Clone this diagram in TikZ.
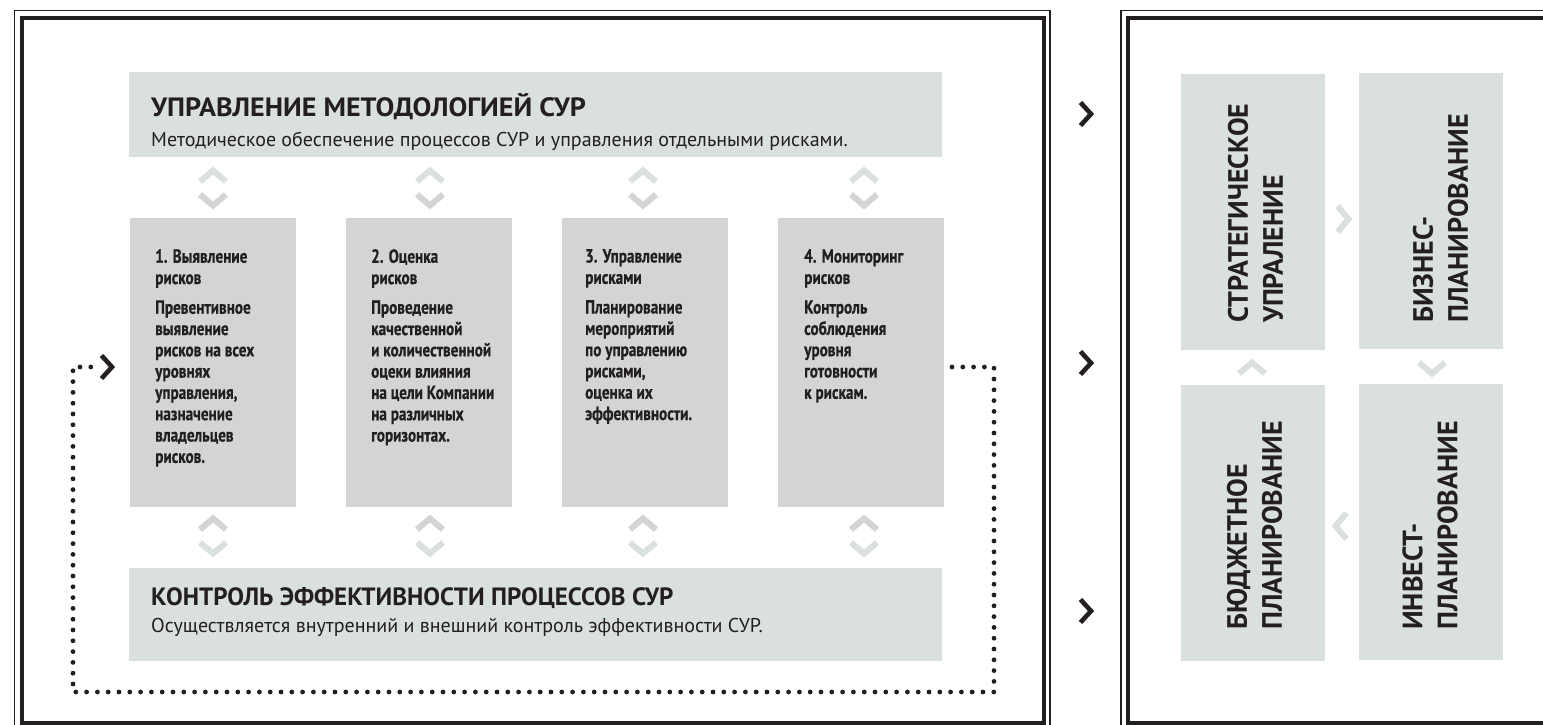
\documentclass[tikz,border=0pt]{standalone}
\usepackage{fontspec}
\setmainfont{PT Sans}
\newfontfamily\condfont[FakeStretch=0.8, FakeBold=0.6, UprightFont={* Bold}]{PT Sans}
\newfontfamily\widefont[FakeStretch=1.06, BoldFont={PT Sans Bold}, BoldFeatures={FakeStretch=1.06}]{PT Sans}
\definecolor{ink}{HTML}{231F20}
\definecolor{sage}{HTML}{DAE1DC}
\definecolor{grayb}{HTML}{D3D4D6}
\tikzset{
  sagebox/.style={fill=sage, draw=none, inner sep=0pt},
  graybox/.style={fill=grayb, draw=none, inner sep=0pt, minimum width=166pt, minimum height=289pt},
  vbox/.style={fill=sage, draw=none, inner sep=0pt, minimum width=144pt, minimum height=276pt},
  titletext/.style={anchor=base west, inner sep=0pt, text=ink, font=\fontsize{25}{28}\selectfont\bfseries},
  subtext/.style={anchor=base west, inner sep=0pt, text=ink, font=\fontsize{20}{24}\selectfont},
  steptext/.style={anchor=north west, inner sep=0pt, align=left, text=ink, font=\condfont\fontsize{19}{21.3}\selectfont},
  vtext/.style={rotate=90, anchor=west, inner sep=0pt, align=left, text=ink, font=\fontsize{28}{35}\selectfont\bfseries},
  dotline/.style={ink, line width=4.8pt, line cap=round, dash pattern=on 0pt off 10.8pt},
  thinframe/.style={ink, line width=1.4pt},
  thickframe/.style={ink, line width=4.2pt},
  bigchev/.pic={\draw[ink, line width=4.6pt, line join=miter] (-5.5,-11.5) -- (5,0) -- (-5.5,11.5);},
  smallchev/.pic={\draw[#1, line width=6pt, line join=miter] (-5.5,-13) -- (5.5,0) -- (-5.5,13);}
}
\begin{document}
\begin{tikzpicture}[x=1pt, y=-1pt]
\useasboundingbox (0,0) rectangle (1543,725);
\clip (0,0) rectangle (1543,725);
\fill[white] (0,0) rectangle (1543,725);

% frames
\draw[thinframe] (14.5,740) -- (14.5,10.5) -- (1050,10.5) -- (1050,740);
\draw[thickframe] (22,723) -- (22,18) -- (1044,18) -- (1044,723) -- cycle;
\draw[thinframe] (1121,740) -- (1121,10.5) -- (1600,10.5);
\draw[thickframe] (1600,723) -- (1128,723) -- (1128,18) -- (1600,18);

% chevrons between panels
\pic at (1086,114) {bigchev};
\pic at (1086,363) {bigchev};
\pic at (1086,611) {bigchev};

% top box
\node[sagebox, minimum width=813pt, minimum height=85pt] (meth) at (535.5,114.5) {};
\node[titletext, font=\widefont\bfseries\fontsize{26.5}{28}\selectfont] (methT) at (151,117) {УПРАВЛЕНИЕ МЕТОДОЛОГИЕЙ СУР};
\node[subtext] (methS) at (151,146) {Методическое обеспечение процессов СУР и управления отдельными рисками.};

% bottom box
\node[sagebox, minimum width=813pt, minimum height=93pt] (ctrl) at (535.5,614.5) {};
\node[titletext] (ctrlT) at (151,605) {КОНТРОЛЬ ЭФФЕКТИВНОСТИ ПРОЦЕССОВ СУР};
\node[subtext] (ctrlS) at (151,632) {Осуществляется внутренний и внешний контроль эффективности СУР.};

% step boxes
\node[graybox] (s1) at (213,362.5) {};
\node[graybox] (s2) at (429,362.5) {};
\node[graybox] (s3) at (645,362.5) {};
\node[graybox] (s4) at (861,362.5) {};

\node[steptext] (s1t) at (155,249) {1. Выявление\\рисков\\[8.4pt]Превентивное\\выявление\\рисков на всех\\уровнях\\управления,\\назначение\\владельцев\\рисков.};
\node[steptext] (s2t) at (371,249) {2. Оценка\\рисков\\[8.4pt]Проведение\\качественной\\и количественной\\оцеки влияния\\на цели Компании\\на различных\\горизонтах.};
\node[steptext] (s3t) at (585,249) {3. Управление\\рисками\\[8.4pt]Планирование\\мероприятий\\по управлению\\рисками,\\оценка их\\эффективности.};
\node[steptext] (s4t) at (804,249) {4. Мониторинг\\рисков\\[8.4pt]Контроль\\соблюдения\\уровня\\готовности\\к рискам.};

% small chevrons (two-way links)
\foreach \cx in {213,430,643,864} {
  \pic[rotate=90] at (\cx,176) {smallchev=sage};
  \pic[rotate=-90] at (\cx,200) {smallchev=grayb};
  \pic[rotate=90] at (\cx,524) {smallchev=grayb};
  \pic[rotate=-90] at (\cx,548) {smallchev=sage};
}

% dotted feedback loop
\coordinate (dStart) at (952,367);
\coordinate (dEnd) at (98,367);
\draw[dotline] (dStart) -- (994,367) -- (994,692) -- (73,692) -- (73,367) -- (dEnd);
\pic at (107,367) {bigchev};

% right panel boxes
\node[vbox] (r1) at (1253,212) {};
\node[vbox] (r2) at (1431,211) {};
\node[vbox] (r3) at (1253,523) {};
\node[vbox] (r4) at (1431,522) {};

\node[vtext] (r1t) at (1255.5,323) {СТРАТЕГИЧЕСКОЕ\\УПРАЛЕНИЕ};
\node[vtext] (r2t) at (1440.5,323) {БИЗНЕС-\\ПЛАНИРОВАНИЕ};
\node[vtext] (r3t) at (1254.5,630) {БЮДЖЕТНОЕ\\ПЛАНИРОВАНИЕ};
\node[vtext] (r4t) at (1430,630) {ИНВЕСТ-\\ПЛАНИРОВАНИЕ};

% right panel chevrons
\pic at (1343,219) {smallchev=sage};
\pic[rotate=-90] at (1432,368) {smallchev=sage};
\pic[rotate=90] at (1252,368) {smallchev=sage};
\pic[rotate=180] at (1341,526) {smallchev=sage};
\end{tikzpicture}
\end{document}
